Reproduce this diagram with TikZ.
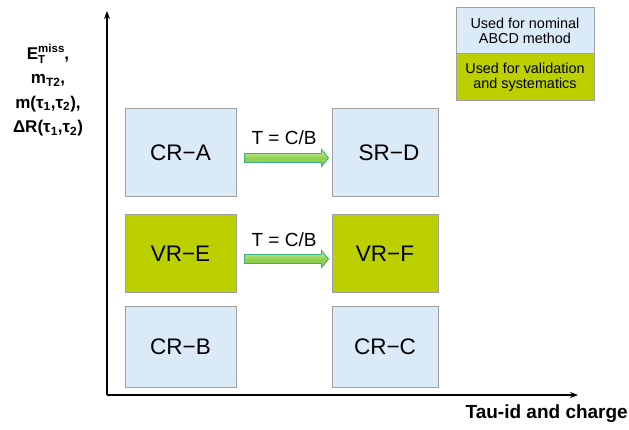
\documentclass[tikz,border=0pt]{standalone}
\usepackage{fontspec}
\setmainfont{Liberation Sans}
\usetikzlibrary{calc,arrows.meta}
\definecolor{boxblue}{RGB}{218,234,246}
\definecolor{boxgreen}{RGB}{188,208,0}
\definecolor{boxedge}{RGB}{160,160,160}
\definecolor{arrfill}{RGB}{146,208,80}
\definecolor{arrlight}{RGB}{205,238,170}
\definecolor{arredge}{RGB}{60,175,130}
\newcommand{\scrsize}{\fontsize{11.5}{12}\selectfont}
\begin{document}
\begin{tikzpicture}[x=1pt,y=-1pt,
  region/.style={draw=boxedge, line width=1pt, inner sep=0pt, font=\fontsize{22.5}{26}\selectfont},
  nominal/.style={region, fill=boxblue},
  valid/.style={region, fill=boxgreen},
  legendbox/.style={draw=boxedge, line width=1pt, inner sep=0pt, minimum width=138pt, align=center, font=\fontsize{14.4}{15.5}\selectfont},
  blockarrow/.style={draw=arredge, line width=0.9pt, top color=arrlight, bottom color=arrfill, middle color=arrfill},
  ratio/.style={font=\fontsize{19}{22}\selectfont, inner sep=0pt},
  axis/.style={line width=1.6pt, -{Stealth[length=8pt,width=6pt]}},
  axislabel/.style={font=\bfseries\fontsize{17}{24.5}\selectfont, align=center, inner sep=0pt}
]
\useasboundingbox (0,0) rectangle (629,430);

% axes
\coordinate (O) at (107,395);
\coordinate (ytop) at (107,11);
\coordinate (xend) at (578,395);
\draw[axis] (O) -- (ytop);
\draw[axis] (O) -- (xend);

\node[axislabel] (ylab) at (48,90) {E\rlap{\raisebox{-4pt}{\scrsize T}}\raisebox{7pt}{\scrsize miss},\\ m\textsubscript{T2},\\ m(τ\textsubscript{1},τ\textsubscript{2}),\\ ΔR(τ\textsubscript{1},τ\textsubscript{2})};
\node[font=\bfseries\fontsize{19}{22}\selectfont, anchor=east, inner sep=0pt] (xlab) at (628,414) {Tau-id and charge};

% regions
\node[nominal, minimum width=111pt, minimum height=88pt] (cra) at (180.5,153) {CR−A};
\node[nominal, minimum width=106pt, minimum height=88pt] (srd) at (385,153) {\hspace{8pt}SR−D};
\node[valid, minimum width=111pt, minimum height=78pt] (vre) at (180.5,254) {VR−E};
\node[valid, minimum width=106pt, minimum height=78pt] (vrf) at (385,254) {VR−F};
\node[nominal, minimum width=111pt, minimum height=80pt] (crb) at (180.5,347) {CR−B};
\node[nominal, minimum width=106pt, minimum height=80pt] (crc) at (385,347) {CR−C};

% transfer arrows
\draw[blockarrow] let \p1=($(cra.east)+(8,5)$), \p2=($(srd.west)+(-3,5)$) in
  (\x1,\y1+4.5pt) -- (\x2-7pt,\y1+4.5pt) -- (\x2-7pt,\y1+8.5pt) -- (\x2,\y1)
  -- (\x2-7pt,\y1-8.5pt) -- (\x2-7pt,\y1-4.5pt) -- (\x1,\y1-4.5pt) -- cycle;
\draw[blockarrow] let \p1=($(vre.east)+(8,5)$), \p2=($(vrf.west)+(-3,5)$) in
  (\x1,\y1+4.5pt) -- (\x2-7pt,\y1+4.5pt) -- (\x2-7pt,\y1+8.5pt) -- (\x2,\y1)
  -- (\x2-7pt,\y1-8.5pt) -- (\x2-7pt,\y1-4.5pt) -- (\x1,\y1-4.5pt) -- cycle;
\node[ratio] (t1) at ($(cra.east)!0.5!(srd.west)+(0,-15)$) {T = C/B};
\node[ratio] (t2) at ($(vre.east)!0.5!(vrf.west)+(0,-14)$) {T = C/B};

% legend
\node[legendbox, fill=boxblue, minimum height=46pt] (legnom) at (525,31) {Used for nominal\\ABCD method};
\node[legendbox, fill=boxgreen, minimum height=47pt] (legval) at (525,77.5) {Used for validation\\and systematics};
\end{tikzpicture}
\end{document}
